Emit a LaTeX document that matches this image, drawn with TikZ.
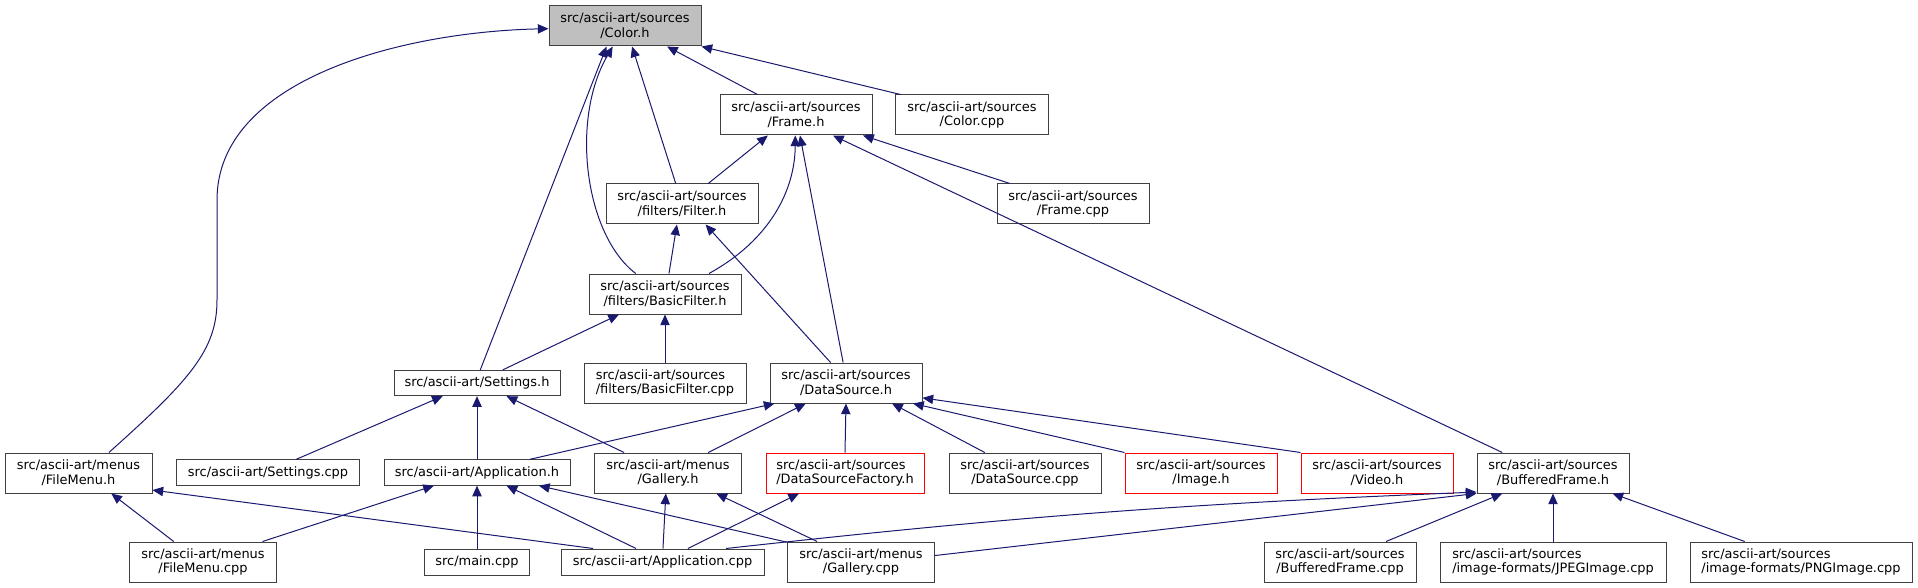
\documentclass[tikz,border=0pt]{standalone}
\usepackage{fontspec}
\setmainfont{DejaVu Sans}
\usetikzlibrary{arrows.meta}
\definecolor{edgeblue}{HTML}{191970}
\definecolor{boxgray}{HTML}{BFBFBF}
\definecolor{frameline}{HTML}{404040}
\begin{document}
\begin{tikzpicture}[
        x=0.75pt, y=-0.75pt,
        >={Triangle[length=8pt,width=7pt]}, % arrow style
        file/.style={draw=frameline, line width=0.75pt, fill=white, align=center,
            inner sep=0pt, minimum height=30pt, font=\fontsize{9.7pt}{11pt}\selectfont}, % header box
        oneline/.style={file, minimum height=19pt},
        missing/.style={file, draw=red},
        edge/.style={->, draw=edgeblue, line width=0.75pt}
    ]
    \useasboundingbox (0,0) rectangle (1918,588);

    % top: the file itself
    \node[file, fill=boxgray, minimum width=114pt] (color_h) at (625,26) {src/ascii-art/sources\\/Color.h};

    % second and third rows
    \node[file, minimum width=114pt] (frame_h) at (796,115) {src/ascii-art/sources\\/Frame.h};
    \node[file, minimum width=114.75pt] (color_cpp) at (972,115) {src/ascii-art/sources\\/Color.cpp};
    \node[file, minimum width=114pt] (filter_h) at (682,204) {src/ascii-art/sources\\/filters/Filter.h};
    \node[file, minimum width=114pt] (frame_cpp) at (1073,204) {src/ascii-art/sources\\/Frame.cpp};
    \node[file, minimum width=114pt] (basicfilter_h) at (665,294) {src/ascii-art/sources\\/filters/BasicFilter.h};

    % middle row
    \node[oneline, minimum width=124.5pt] (settings_h) at (477,383) {src/ascii-art/Settings.h};
    \node[file, align=left, minimum width=121.5pt] (basicfilter_cpp) at (665,383) {src/ascii-art/sources\\/filters/BasicFilter.cpp};
    \node[file, minimum width=114pt] (datasource_h) at (846,383) {src/ascii-art/sources\\/DataSource.h};

    % fourth row
    \node[file, minimum width=110.25pt] (filemenu_h) at (78.5,473) {src/ascii-art/menus\\/FileMenu.h};
    \node[oneline, minimum width=137.25pt] (settings_cpp) at (268,472.5) {src/ascii-art/Settings.cpp};
    \node[oneline, minimum width=139.5pt] (application_h) at (477,472.5) {src/ascii-art/Application.h};
    \node[file, minimum width=110.25pt] (gallery_h) at (668,473) {src/ascii-art/menus\\/Gallery.h};
    \node[missing, align=left, minimum width=118.5pt] (dsfactory_h) at (845,473) {src/ascii-art/sources\\/DataSourceFactory.h};
    \node[file, minimum width=114pt] (datasource_cpp) at (1025,473) {src/ascii-art/sources\\/DataSource.cpp};
    \node[missing, minimum width=114pt] (image_h) at (1201,473) {src/ascii-art/sources\\/Image.h};
    \node[missing, minimum width=114pt] (video_h) at (1377,473) {src/ascii-art/sources\\/Video.h};
    \node[file, minimum width=114pt] (bufferedframe_h) at (1553,473) {src/ascii-art/sources\\/BufferedFrame.h};

    % bottom row
    \node[file, minimum width=110.25pt] (filemenu_cpp) at (203,562) {src/ascii-art/menus\\/FileMenu.cpp};
    \node[oneline, minimum width=78.75pt, minimum height=19.5pt] (main_cpp) at (477,562) {src/main.cpp};
    \node[oneline, minimum width=152.25pt, minimum height=19.5pt] (application_cpp) at (662.5,562) {src/ascii-art/Application.cpp};
    \node[file, minimum width=110.25pt] (gallery_cpp) at (861,562) {src/ascii-art/menus\\/Gallery.cpp};
    \node[file, minimum width=114pt] (bufferedframe_cpp) at (1340,562) {src/ascii-art/sources\\/BufferedFrame.cpp};
    \node[file, align=left, minimum width=169.5pt] (jpeg_cpp) at (1553,562) {src/ascii-art/sources\\/image-formats/JPEGImage.cpp};
    \node[file, align=left, minimum width=166.5pt] (png_cpp) at (1801,562) {src/ascii-art/sources\\/image-formats/PNGImage.cpp};

    % includes of Color.h
    \draw[edge] (filemenu_h.34) .. controls (190,380) and (217,350) .. (217,300) -- (217,200)
        .. controls (217,80) and (400,32) .. (color_h.182);
    \draw[edge] (settings_h.76) -- (color_h.228);
    \draw[edge] (basicfilter_h.145) .. controls (585,235) and (570,120) .. (color_h.239);
    \draw[edge] (filter_h.107) -- (color_h.289);
    \draw[edge] (frame_h.152) -- (color_h.334);
    \draw[edge] (color_cpp.164) -- (color_h.345);

    % includes of Frame.h
    \draw[edge] (filter_h.38) -- (frame_h.216);
    \draw[edge] (basicfilter_h.25) .. controls (770,240) and (795,190) .. (frame_h.268);
    \draw[edge] (datasource_h.98) -- (frame_h.281);
    \draw[edge] (bufferedframe_h.158) -- (frame_h.331);
    \draw[edge] (frame_cpp.162) -- (frame_h.343);

    % filters
    \draw[edge] (basicfilter_h.79) -- (filter_h.256);
    \draw[edge] (datasource_h.127) -- (filter_h.319);
    \draw[edge] (settings_h.27) -- (basicfilter_h.204);
    \draw[edge] (basicfilter_cpp.north) -- (basicfilter_h.south);

    % Settings.h
    \draw[edge] (settings_cpp.25) -- (settings_h.201);
    \draw[edge] (application_h.north) -- (settings_h.south);
    \draw[edge] (gallery_h.155) -- (settings_h.336);

    % DataSource.h
    \draw[edge] (application_h.14) -- (datasource_h.196);
    \draw[edge] (gallery_h.27) -- (datasource_h.207);
    \draw[edge] (dsfactory_h.north) -- (datasource_h.south);
    \draw[edge] (datasource_cpp.153) -- (datasource_h.336);
    \draw[edge] (image_h.165) -- (datasource_h.343);
    \draw[edge] (video_h.165) -- (datasource_h.349);

    % FileMenu.h and Application.h
    \draw[edge] (filemenu_cpp.145) -- (filemenu_h.328);
    \draw[edge] (application_cpp.169) -- (filemenu_h.347);
    \draw[edge] (filemenu_cpp.19) -- (application_h.197);
    \draw[edge] (main_cpp.north) -- (application_h.south);
    \draw[edge] (application_cpp.153) -- (application_h.336);
    \draw[edge] (gallery_cpp.165) -- (application_h.348);

    % Gallery.h and DataSourceFactory.h
    \draw[edge] (application_cpp.88) -- (gallery_h.264);
    \draw[edge] (gallery_cpp.155) -- (gallery_h.337);
    \draw[edge] (application_cpp.28) -- (dsfactory_h.204);

    % BufferedFrame.h
    \draw[edge] (application_cpp.12) to[bend left=2] (bufferedframe_h.194);
    \draw[edge] (gallery_cpp.5) -- (bufferedframe_h.195);
    \draw[edge] (bufferedframe_cpp.24) -- (bufferedframe_h.202);
    \draw[edge] (jpeg_cpp.north) -- (bufferedframe_h.south);
    \draw[edge] (png_cpp.160) -- (bufferedframe_h.341);
\end{tikzpicture}
\end{document}
